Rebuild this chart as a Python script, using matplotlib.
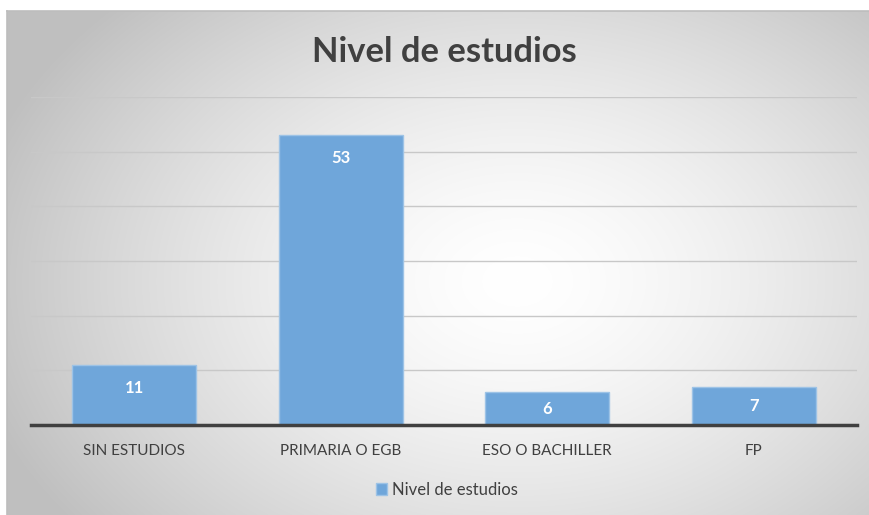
import numpy as np
import matplotlib.pyplot as plt

categorias = ["SIN ESTUDIOS", "PRIMARIA O EGB", "ESO O BACHILLER", "FP"]
valores = [11, 53, 6, 7]
serie = "Nivel de estudios"
titulo = "Nivel de estudios"

plt.rcParams['font.family'] = ['Lato', 'DejaVu Sans']

fig = plt.figure(figsize=(8.69, 5.15), dpi=100)
W, H = 869, 515

# fondo con degradado radial (estilo Excel)
bg = fig.add_axes([7 / W, 0, (W - 7) / W, (H - 11) / H])
ny, nx = 504, 862
yy, xx = np.mgrid[0:ny, 0:nx]
cx, cy = 510, 270
d = np.sqrt(((xx - cx) / 560.0) ** 2 + ((yy - cy) / 400.0) ** 2)
d = np.clip(d, 0, 1)
gris = 1.0 - 0.25 * d ** 1.5
img = np.dstack([gris, gris, gris])
bg.imshow(img, aspect='auto', extent=[0, 1, 0, 1], origin='upper')
bg.set_xlim(0, 1)
bg.set_ylim(0, 1)
bg.set_xticks([])
bg.set_yticks([])
for lado in ['right', 'bottom']:
    bg.spines[lado].set_visible(False)
for lado in ['top', 'left']:
    bg.spines[lado].set_color('#bdbdbd')
    bg.spines[lado].set_linewidth(1.2)

ax = fig.add_axes([31 / W, 90 / H, 826 / W, 328 / H])
ax.patch.set_alpha(0)
x = np.arange(len(categorias))
barras = ax.bar(x, valores, width=0.6, color='#6fa6da', edgecolor='#9dc3e6',
                linewidth=1, zorder=3, label=serie)
ax.set_xlim(-0.5, len(categorias) - 0.5)
ax.set_ylim(0, 60)
ax.set_yticks(range(10, 61, 10))
ax.yaxis.grid(True, color='#c8c8c8', linewidth=1, zorder=0)
ax.tick_params(axis='y', length=0, labelleft=False)
ax.set_xticks(x)
ax.set_xticklabels(categorias, fontsize=11, color='#404040')
ax.tick_params(axis='x', length=0, pad=14)
for lado in ['top', 'right', 'left']:
    ax.spines[lado].set_visible(False)
ax.spines['bottom'].set_color('#404040')
ax.spines['bottom'].set_linewidth(2.5)
ax.spines['bottom'].set_zorder(4)

# etiquetas: dentro del extremo, o centradas si la barra es baja
for b, v in zip(barras, valores):
    y_lab = max(v - 4.2, v / 2)
    ax.text(b.get_x() + b.get_width() / 2, y_lab, str(v), ha='center',
            va='center', fontsize=12, fontweight='bold', color='white',
            zorder=5)

fig.text(444 / W, 1 - 52 / H, titulo, ha='center', va='center',
         fontsize=24.8, fontweight='bold', color='#404040')

leg = fig.legend(handles=[barras], labels=[serie], loc='center',
                 bbox_to_anchor=(447 / W, 1 - 490 / H), frameon=False,
                 fontsize=12, handlelength=0.7, handleheight=0.7,
                 handletextpad=0.3)
for t in leg.get_texts():
    t.set_color('#404040')

fig.savefig("out.png", dpi=100)
